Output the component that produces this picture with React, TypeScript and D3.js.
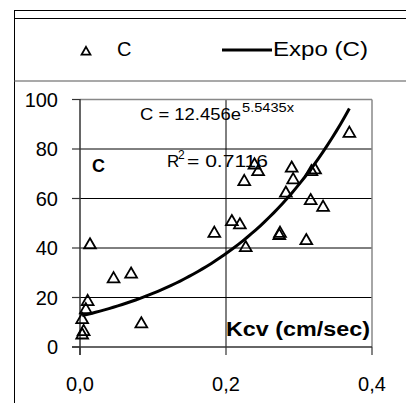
import React from "react";
import * as d3 from "d3";

// Kcv (cm/sec) against C
const kcv = [
  0.0137, 0.046, 0.07, 0.0105, 0.008, 0.003, 0.005, 0.003, 0.084,
  0.184, 0.208, 0.219, 0.227, 0.225, 0.239, 0.244,
  0.369, 0.29, 0.292, 0.282, 0.317, 0.322, 0.316, 0.333, 0.274, 0.273, 0.31,
];
const cValues = [
  41.2, 27.5, 29.4, 18.3, 15, 11, 6.2, 4.8, 9.3,
  45.9, 50.6, 49.3, 40.1, 66.8, 73.5, 70.8,
  86.3, 72.2, 67.5, 62.1, 70.8, 71.5, 59.1, 56.4, 45.9, 45, 42.9,
];
const yTicks = [0, 20, 40, 60, 80, 100];
const xTicks = [0, 0.2, 0.4];
const xTickLabels = ["0,0", "0,2", "0,4"];

// exponential trend: C = a * e^(b x)
const trendA = 12.456;
const trendB = 5.5435;
const rSquared = "0.7116";

const W = 406;
const H = 403;
const FONT = "'Liberation Sans', Arial, sans-serif";

export default function App() {
  const x = d3.scaleLinear().domain([0, 0.4]).range([80, 372]);
  const y = d3.scaleLinear().domain([0, 100]).range([347, 99.5]);

  const xMin = d3.min(kcv) as number;
  const xMax = d3.max(kcv) as number;
  const trendPts = d3.range(0, 61).map((i) => {
    const xv = xMin + ((xMax - xMin) * i) / 60;
    return [xv, trendA * Math.exp(trendB * xv)] as [number, number];
  });
  const line = d3
    .line<[number, number]>()
    .x((d) => x(d[0]))
    .y((d) => y(d[1]));

  const tri = d3.symbol().type(d3.symbolTriangle).size(60)() as string;
  const legendTri = d3.symbol().type(d3.symbolTriangle).size(34)() as string;

  return (
    <svg
      width={W}
      height={H}
      style={{ position: "absolute", left: 0, top: 0, background: "#fff" }}
      fontFamily={FONT}
    >
      {/* frame */}
      <line x1={14.5} x2={14.5} y1={10} y2={H} stroke="#000" strokeWidth={1} />
      <line x1={14} x2={W} y1={10.5} y2={10.5} stroke="#000" strokeWidth={1} />
      <line x1={14} x2={W} y1={18.5} y2={18.5} stroke="#000" strokeWidth={1} />
      <line x1={14} x2={W} y1={81} y2={81} stroke="#555" strokeWidth={1.2} />

      {/* legend */}
      <path d={legendTri} transform="translate(86,52)" fill="#fff" stroke="#000" strokeWidth={1.8} />
      <text x={117} y={56} fontSize={20}>C</text>
      <line x1={222} x2={272} y1={50} y2={50} stroke="#000" strokeWidth={3} />
      <text x={273} y={56} fontSize={20} textLength={95} lengthAdjust="spacingAndGlyphs">
        Expo (C)
      </text>

      {/* grid */}
      {yTicks.slice(1, -1).map((t) => (
        <line key={t} x1={80} x2={372} y1={y(t)} y2={y(t)} stroke="#000" strokeWidth={1} />
      ))}
      <line x1={x(0.2)} x2={x(0.2)} y1={99.5} y2={347} stroke="#000" strokeWidth={1} />
      {/* plot border */}
      <line x1={80} x2={372} y1={99.5} y2={99.5} stroke="#888" strokeWidth={1.5} />
      <line x1={372} x2={372} y1={99.5} y2={347} stroke="#888" strokeWidth={1.5} />

      {/* axes */}
      <line x1={80} x2={80} y1={99} y2={355} stroke="#333" strokeWidth={1.5} />
      <line x1={72} x2={372} y1={347} y2={347} stroke="#333" strokeWidth={1.5} />
      {yTicks.map((t) => (
        <g key={t}>
          <line x1={72} x2={80} y1={y(t)} y2={y(t)} stroke="#333" strokeWidth={1.2} />
          <text x={58} y={y(t) + 7} fontSize={20} textAnchor="end">
            {t}
          </text>
        </g>
      ))}
      {xTicks.map((t, i) => (
        <g key={t}>
          <line x1={x(t)} x2={x(t)} y1={347} y2={355} stroke="#333" strokeWidth={1.2} />
          <text x={x(t)} y={391} fontSize={20} textAnchor="middle">
            {xTickLabels[i]}
          </text>
        </g>
      ))}

      {/* trend line */}
      <path d={line(trendPts) as string} fill="none" stroke="#000" strokeWidth={3} />

      {/* data points */}
      {kcv.map((xv, i) => (
        <path
          key={i}
          d={tri}
          transform={`translate(${x(xv)},${y(cValues[i])})`}
          fill="none"
          stroke="#000"
          strokeWidth={1.8}
        />
      ))}

      {/* annotations */}
      <text x={140} y={120} fontSize={17} textLength={101} lengthAdjust="spacingAndGlyphs">
        C = 12.456e
      </text>
      <text x={242} y={112} fontSize={12} textLength={52} lengthAdjust="spacingAndGlyphs">
        {trendB}x
      </text>
      <text x={167} y={167} fontSize={17}>R</text>
      <text x={178} y={159} fontSize={12}>2</text>
      <text x={187} y={167} fontSize={17} textLength={81} lengthAdjust="spacingAndGlyphs">
        = {rSquared}
      </text>
      <text x={92} y={172} fontSize={18} fontWeight="bold">C</text>
      <text x={226} y={336} fontSize={20} fontWeight="bold" textLength={144} lengthAdjust="spacingAndGlyphs">
        Kcv (cm/sec)
      </text>
    </svg>
  );
}
